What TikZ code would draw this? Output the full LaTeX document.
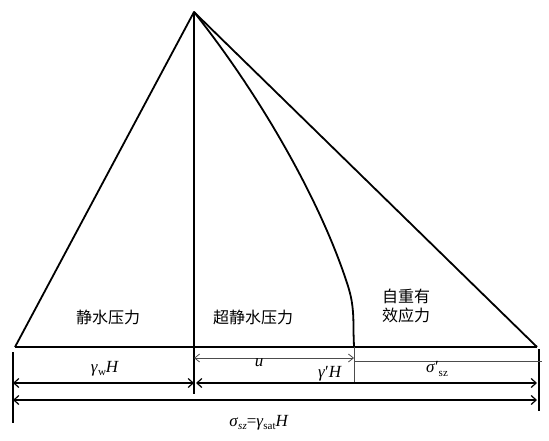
\documentclass[tikz,border=0pt]{standalone}
\usepackage{fontspec}
\setmainfont{Liberation Serif}
\newfontfamily\cjk{Noto Sans CJK SC}
\usetikzlibrary{arrows.meta}
\newcommand\mysub[1]{\raisebox{-0.4ex}{\fontsize{11}{11}\selectfont #1}}
\begin{document}
\begin{tikzpicture}[x=1pt,y=-1pt,
  heavy/.style={line width=1.8pt,line join=round},
  dimline/.style={line width=1.2pt,{Straight Barb[length=5pt,width=9pt]}-{Straight Barb[length=5pt,width=9pt]}},
  thindim/.style={line width=0.8pt,draw=black!70,{Straight Barb[length=5pt,width=8pt]}-{Straight Barb[length=5pt,width=8pt]}},
  ext/.style={line width=1.1pt},
  ext2/.style={line width=0.8pt,draw=black!70},
  cn/.style={font=\cjk\fontsize{16}{19}\selectfont,inner sep=0pt,align=center},
  lbl/.style={font=\fontsize{17}{19}\selectfont,inner sep=0pt}]
\useasboundingbox (0,0) rectangle (549,441);
% key points
\coordinate (apex) at (194,12);
\coordinate (bl) at (15,347);
\coordinate (bm) at (194,347);
\coordinate (bu) at (354,347);
\coordinate (br) at (537,347);
% triangles
\draw[heavy] (bl) -- (apex) -- (br);
\draw[heavy] (bl) -- (br);
\draw[heavy] (apex) -- (bm);
\coordinate (c1) at (347,283);
\coordinate (c2) at (353.5,332);
\draw[heavy] (apex) .. controls (260,95) and (320,200) .. (c1)
   .. controls (353,301) and (353.5,312) .. (c2) -- (bu);
% extension lines
\coordinate (e1a) at (13,352); \coordinate (e1b) at (13,423);
\coordinate (e2b) at (194,394);
\coordinate (e3b) at (354,382);
\coordinate (e4a) at (539,349); \coordinate (e4b) at (539,411);
\draw[ext] (e1a) -- (e1b);
\draw[ext] (bm) -- (e2b);
\draw[ext2] (bu) -- (e3b);
\draw[ext] (e4a) -- (e4b);
% dimension lines
\coordinate (u1) at (194,358); \coordinate (u2) at (354,358);
\draw[thindim] (u1) -- (u2);
\coordinate (s1) at (354,361); \coordinate (s2) at (542,361);
\draw[ext2] (s1) -- (s2);
\coordinate (d1) at (13,383); \coordinate (d2) at (194,383);
\coordinate (d3) at (196,383); \coordinate (d4) at (537,383);
\draw[dimline] (d1) -- (d2);
\draw[dimline] (d3) -- (d4);
\coordinate (f1) at (13,400); \coordinate (f2) at (537,400);
\draw[dimline] (f1) -- (f2);
% Chinese labels
\node[cn] (jing) at (108,317) {静水压力};
\node[cn] (chao) at (253,317) {超静水压力};
\node[cn] (zi) at (406,306) {自重有\\效应力};
% math labels
\node[lbl] (gw) at (105,369) {\textit{γ}\mysub{w}\textit{H}};
\node[lbl] (u) at (259,363) {\textit{u}};
\node[lbl] (gp) at (330,374) {\textit{γ}′\textit{H}};
\node[lbl] (sp) at (437,369) {\textit{σ}′\mysub{sz}};
\node[lbl] (tot) at (259,423) {\textit{σ}\mysub{\itshape sz}=\textit{γ}\mysub{sat}\textit{H}};
\end{tikzpicture}
\end{document}
